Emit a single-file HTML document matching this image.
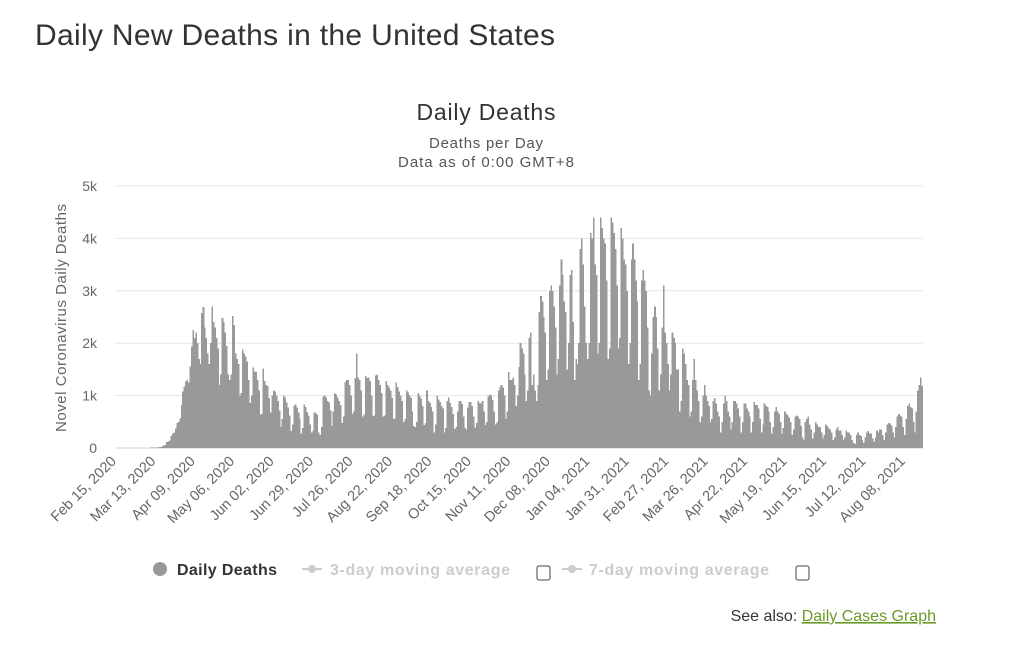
<!DOCTYPE html>
<html><head><meta charset="utf-8"><style>
body{margin:0;background:#fff;width:1024px;height:640px;overflow:hidden;font-family:"Liberation Sans",sans-serif}
</style></head><body>
<svg id="chart" width="1024" height="640" xmlns="http://www.w3.org/2000/svg" font-family="Liberation Sans, sans-serif">
<text x="35" y="45" font-size="30" fill="#333" textLength="520">Daily New Deaths in the United States</text>
<text x="486" y="120" font-size="23" fill="#333" text-anchor="middle" textLength="139">Daily Deaths</text>
<text x="486" y="148" font-size="15" fill="#555" text-anchor="middle" textLength="114">Deaths per Day</text>
<text x="486" y="167" font-size="15" fill="#555" text-anchor="middle" textLength="176">Data as of 0:00 GMT+8</text>
<text transform="translate(66,318) rotate(-90)" font-size="15" fill="#666" text-anchor="middle" textLength="228">Novel Coronavirus Daily Deaths</text>
<g id="grid"></g><g id="bars" shape-rendering="crispEdges"></g><g id="xaxis"></g><g id="yaxis"></g>
<g>
<g><circle cx="160" cy="569" r="7" fill="#999"/><text x="177" y="575" font-size="16" font-weight="bold" fill="#333" textLength="100">Daily Deaths</text></g>
<g><line x1="302" y1="569" x2="322" y2="569" stroke="#ccc" stroke-width="2"/><circle cx="312" cy="569" r="4" fill="#ccc"/><text x="330" y="575" font-size="16" font-weight="bold" fill="#ccc" textLength="180">3-day moving average</text></g>
<rect x="537" y="566" width="13" height="14" rx="2" fill="#fff" stroke="#444"/>
<g><line x1="562" y1="569" x2="582" y2="569" stroke="#ccc" stroke-width="2"/><circle cx="572" cy="569" r="4" fill="#ccc"/><text x="589" y="575" font-size="16" font-weight="bold" fill="#ccc" textLength="180">7-day moving average</text></g>
<rect x="796" y="566" width="13" height="14" rx="2" fill="#fff" stroke="#444"/>
</g>
<text x="936" y="621" font-size="16" fill="#333" text-anchor="end">See also: <tspan fill="#6a9a2a" text-decoration="underline">Daily Cases Graph</tspan></text>
</svg>
<script>
const deaths=[
0,0,0,0,0,0,0, 0,0,0,0,0,1,1, 1,1,4,1,3,2,1, 2,3,4,7,9,8,10,
10,12,18,23,40,50,60, 110,120,140,230,280,300,370, 480,500,560,820,1080,1170,1270,
1300,1250,1560,1940,2250,2100,2200, 2000,1700,1600,2580,2690,2300,2100, 1800,1600,2000,2700,2400,2300,2100,
1900,1200,1400,2480,2400,2200,1950, 1400,1300,1400,2520,2350,1800,1700, 1600,1000,1050,1880,1800,1750,1650,
1300,860,1000,1540,1460,1450,1300, 1100,640,650,1520,1280,1200,1180, 950,680,1000,1100,1080,1000,900,
720,400,550,1000,960,870,770, 620,320,450,800,830,770,680, 560,280,380,830,780,690,620,
450,300,330,680,660,630,300, 250,400,980,1000,960,900,870, 720,420,700,1040,1020,960,900,
820,480,600,1260,1300,1300,1200, 1000,650,700,1340,1800,1350,1300, 1100,600,640,1370,1340,1350,1280,
1000,610,620,1380,1400,1300,1200, 1050,600,620,1280,1200,1150,1100, 950,550,560,1250,1160,1080,1000,
900,500,550,1100,1060,1000,950, 700,420,400,500,1050,1000,940, 800,440,480,1100,900,860,780,
700,300,450,1000,930,880,800, 750,300,380,900,960,860,780, 650,360,400,700,900,900,840,
600,380,350,770,880,880,800, 600,390,480,900,860,850,900, 700,440,500,980,1020,1000,920,
700,450,500,1100,1160,1200,1150, 1000,550,700,1450,1300,1300,1350, 1200,800,1000,1550,2000,1900,1800,
1400,900,1100,2100,2200,1200,1400, 1100,900,1200,2600,2900,2800,2500, 2200,1300,1500,3000,3100,3000,2700,
2300,1400,1700,3100,3600,3300,2800, 2600,1500,2000,3300,3400,2400,1300, 1700,1600,2000,3800,4000,3500,2700,
2000,1700,2000,4100,4000,4400,3500, 3300,1800,2000,4400,4200,4000,3900, 3200,1700,1900,4400,4300,4100,3800,
3100,1900,2100,4200,4000,3600,3500, 3000,1600,2000,3600,3900,3600,3200, 2800,1300,1600,3200,3400,3200,3000,
2300,1100,1000,1800,2500,2700,2500, 1900,1100,1400,2300,3100,2200,2000, 1600,1100,1400,2200,2100,2000,1500,
1500,700,900,1900,1800,1600,1300, 1200,600,700,1300,1700,1300,1100, 900,500,600,1000,1200,1000,900,
800,500,550,900,950,850,700, 600,300,500,850,1000,900,700, 600,350,500,900,900,850,750,
600,300,500,850,850,750,700, 600,300,500,880,820,820,750, 550,300,450,850,800,780,700,
500,280,400,700,780,700,650, 500,270,380,700,650,620,580, 500,250,350,600,620,600,550,
420,200,150,500,550,600,450, 350,180,300,500,450,400,400, 300,180,250,450,420,380,350,
300,150,200,350,400,330,330, 250,150,200,330,300,300,250, 150,100,80,250,300,250,230,
150,100,200,300,320,280,280, 180,120,200,330,300,350,350, 250,150,300,450,480,470,430,
300,200,400,600,650,620,600, 400,250,550,800,850,780,750, 500,300,700,1100,1200,1350,1180
];
const xTickLabels=["Feb 15, 2020","Mar 13, 2020","Apr 09, 2020","May 06, 2020","Jun 02, 2020","Jun 29, 2020","Jul 26, 2020","Aug 22, 2020","Sep 18, 2020","Oct 15, 2020","Nov 11, 2020","Dec 08, 2020","Jan 04, 2021","Jan 31, 2021","Feb 27, 2021","Mar 26, 2021","Apr 22, 2021","May 19, 2021","Jun 15, 2021","Jul 12, 2021","Aug 08, 2021"];
const xTickStep=27;
const yTicks=[0,1000,2000,3000,4000,5000];
const yTickLabels=["0","1k","2k","3k","4k","5k"];
const NS="http://www.w3.org/2000/svg";
const L=115,R=923,T=186,B=448,yMax=5000;
const dayW=(R-L)/deaths.length;
const xs=i=>L+i*dayW;
const ys=v=>B-(v/yMax)*(B-T);
function mk(tag,attrs,parent){const e=document.createElementNS(NS,tag);for(const k in attrs)e.setAttribute(k,attrs[k]);document.getElementById(parent).appendChild(e);return e;}
yTicks.forEach((t,i)=>{
 const g=mk('line',{x1:L,x2:R,y1:ys(t),y2:ys(t),stroke:i===0?'#ccd6eb':'#e6e6e6','stroke-width':1},'grid');
 
 
 const tx=mk('text',{x:L-18,y:ys(t)+5,'font-size':14,fill:'#666','text-anchor':'end'},'yaxis');
 tx.textContent=yTickLabels[i];
 
 
});
deaths.forEach((v,i)=>{
 const r=mk('rect',{x:xs(i),y:ys(v),width:dayW+0.15,height:B-ys(v),fill:'#999'},'bars');
 
 
});
xTickLabels.forEach((lab,j)=>{
 const x=xs(j*xTickStep)+2;
 const tx=mk('text',{transform:`translate(${x},${B+14}) rotate(-45)`,'font-size':14.5,fill:'#666','text-anchor':'end'},'xaxis');
 tx.textContent=lab;
 
 
});
</script>
</body></html>
